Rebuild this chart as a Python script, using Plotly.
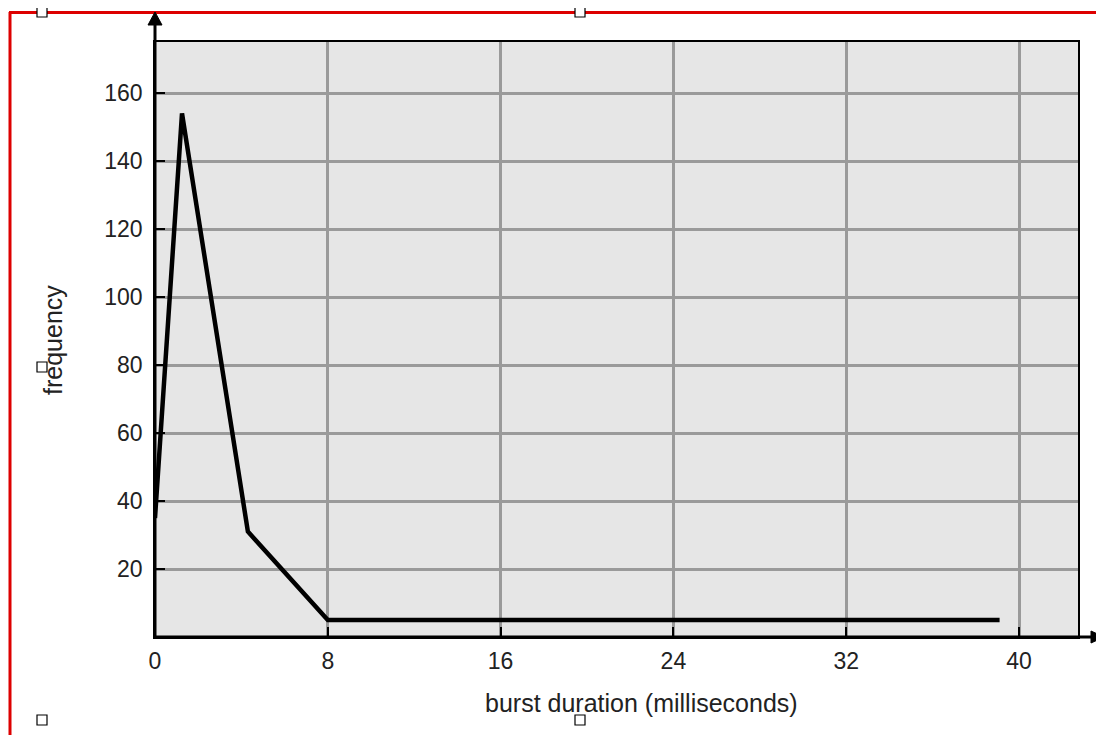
import plotly.graph_objects as go

# Data
burst_ms = [0, 1.25, 4.3, 8, 39.1]
frequency = [35, 154, 31, 5, 5]
x_ticks = [0, 8, 16, 24, 32, 40]
y_ticks = [20, 40, 60, 80, 100, 120, 140, 160]

# The page body has an 8px margin, so the figure is offset by 8px.
OFF = 8
W, H = 1104 - OFF, 735 - OFF
# plot area in reference (window) pixels: x 155..1078, y 42..637
L, R, T, B = 155 - OFF, 1104 - 1078, 42 - OFF, 735 - 637
PW, PH = W - L - R, H - T - B

def px(xp):
    return (xp - OFF - L) / PW

def py(yp):
    return (T + PH - (yp - OFF)) / PH

fig = go.Figure()
fig.add_trace(go.Scatter(x=burst_ms, y=frequency, mode="lines",
                         line=dict(color="black", width=4.5), showlegend=False,
                         cliponaxis=False))

font = dict(family="Liberation Sans, Arial, sans-serif", size=23, color="#222222")
title_font = dict(family="Liberation Sans, Arial, sans-serif", size=25, color="#222222")

fig.update_xaxes(range=[0, 42.73], tickvals=x_ticks, ticktext=[str(v) for v in x_ticks],
                 showgrid=True, gridcolor="#9a9a9a", gridwidth=3,
                 ticks="inside", ticklen=10, tickwidth=2, tickcolor="black",
                 showline=True, mirror=True, linecolor="black", linewidth=1.5,
                 zeroline=False, tickfont=font, fixedrange=True, ticklabelstandoff=3)
fig.update_yaxes(range=[0, 175], tickvals=y_ticks, ticktext=[str(v) for v in y_ticks],
                 showgrid=True, gridcolor="#9a9a9a", gridwidth=3,
                 ticks="inside", ticklen=10, tickwidth=2, tickcolor="black",
                 showline=True, mirror=True, linecolor="black", linewidth=1.5,
                 zeroline=False, tickfont=font, fixedrange=True, ticklabelstandoff=6)

shapes = []
# red frame (top and left)
shapes.append(dict(type="line", xref="paper", yref="paper",
                   x0=px(9), x1=px(1110), y0=py(12.5), y1=py(12.5),
                   line=dict(color="#dd0000", width=3)))
shapes.append(dict(type="line", xref="paper", yref="paper",
                   x0=px(10), x1=px(10), y0=py(12), y1=py(740),
                   line=dict(color="#dd0000", width=3)))
# axis lines with arrowheads
shapes.append(dict(type="line", xref="paper", yref="paper",
                   x0=0, x1=0, y0=0, y1=py(22),
                   line=dict(color="black", width=3)))
shapes.append(dict(type="line", xref="paper", yref="paper",
                   x0=0, x1=px(1095), y0=0, y1=0,
                   line=dict(color="black", width=3)))
tip_y, base_y = py(12), py(25)
shapes.append(dict(type="path", xref="paper", yref="paper",
                   path=f"M {px(148)} {base_y} L {px(155)} {tip_y} L {px(162)} {base_y} Z",
                   fillcolor="black", line=dict(color="black", width=1)))
tip_x, base_x = px(1104), px(1091)
shapes.append(dict(type="path", xref="paper", yref="paper",
                   path=f"M {base_x} {py(631)} L {tip_x} {py(637)} L {base_x} {py(643)} Z",
                   fillcolor="black", line=dict(color="black", width=1)))
# selection handles
for cx, cy in [(42, 12), (580, 12), (42, 367), (42, 720), (580, 720)]:
    shapes.append(dict(type="rect", xref="paper", yref="paper",
                       x0=px(cx - 5), x1=px(cx + 5), y0=py(cy - 5), y1=py(cy + 5),
                       fillcolor="white", line=dict(color="black", width=1.2)))

annotations = [
    dict(text="burst duration (milliseconds)", xref="paper", yref="paper",
         x=px(641), y=py(703), showarrow=False, font=title_font,
         xanchor="center", yanchor="middle"),
    dict(text="frequency", xref="paper", yref="paper",
         x=px(53), y=py(340), showarrow=False, font=title_font, textangle=-90,
         xanchor="center", yanchor="middle"),
]

fig.update_layout(width=W, height=H, margin=dict(l=L, r=R, t=T, b=B),
                  paper_bgcolor="white", plot_bgcolor="#e6e6e6",
                  shapes=shapes, annotations=annotations, showlegend=False)

fig.write_html("out.html", config={"displayModeBar": False})
